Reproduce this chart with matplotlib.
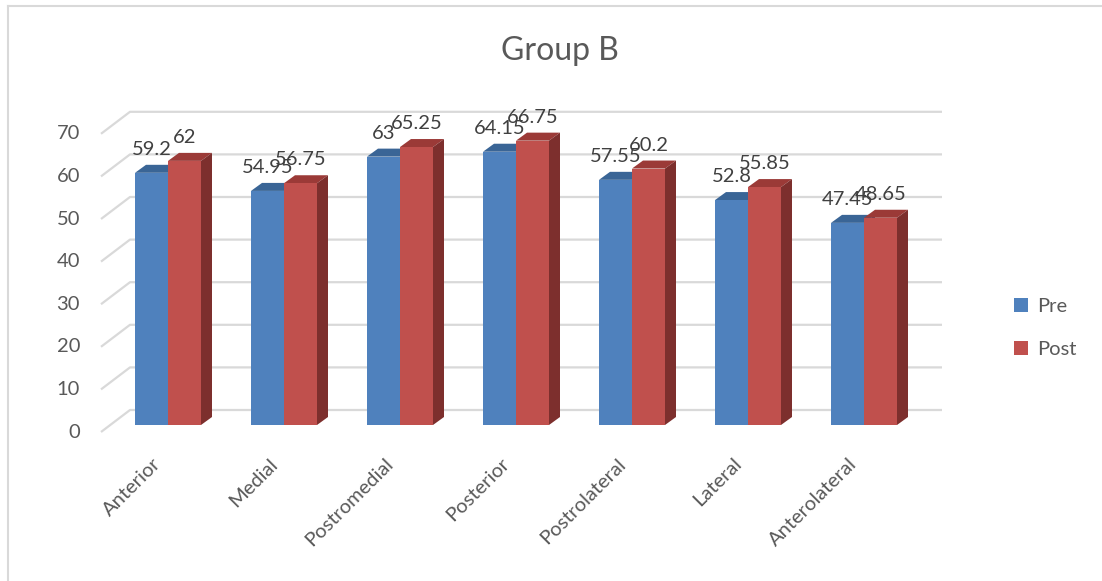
import numpy as np
import matplotlib
matplotlib.use("Agg")
import matplotlib.pyplot as plt
from matplotlib.patches import Polygon, Patch
from matplotlib.lines import Line2D

plt.rcParams['font.family'] = ['Lato', 'DejaVu Sans']

# data
categories = ["Anterior", "Medial", "Postromedial", "Posterior",
              "Postrolateral", "Lateral", "Anterolateral"]
pre = [59.2, 54.95, 63, 64.15, 57.55, 52.8, 47.45]
post = [62, 56.75, 65.25, 66.75, 60.2, 55.85, 48.65]
pre_labels = ["59.2", "54.95", "63", "64.15", "57.55", "52.8", "47.45"]
post_labels = ["62", "56.75", "65.25", "66.75", "60.2", "55.85", "48.65"]
yticks = [0, 10, 20, 30, 40, 50, 60, 70]

# colours (front, top, side)
pre_cols = ("#4F81BD", "#3A6596", "#2F5580")
post_cols = ("#C0504D", "#9B3A37", "#7D2F2D")
grid_col = "#D9D9D9"
text_col = "#595959"

W, H = 1102, 581
fig = plt.figure(figsize=(W / 100, H / 100), dpi=100)
# axes spans pixel x 90..960, y 100..440
ax = fig.add_axes([90 / W, 1 - 440 / H, 870 / W, 340 / H])
px_x = 116.0   # pixels per category
px_y = 4.26    # pixels per value unit
ax.set_xlim((90 - 168) / px_x, (960 - 168) / px_x)
ax.set_ylim((425 - 440) / px_y, (425 - 100) / px_y)
ax.axis("off")

bw = 33 / px_x          # single bar width
ddx = 11 / px_x         # bar depth shift
ddy = 8 / px_y
back_dy = 15 / px_y     # back wall offset from bar front
front_dy = -7 / px_y    # side wall front offset
wall_x0 = (101 - 168) / px_x
wall_x1 = (130 - 168) / px_x
wall_x2 = (942 - 168) / px_x

# gridlines (back wall + left side wall)
for t in yticks:
    ax.plot([wall_x0, wall_x1, wall_x2], [t + front_dy, t + back_dy, t + back_dy],
            color=grid_col, lw=1.6, zorder=1, solid_capstyle="butt")
    ax.text((80 - 168) / px_x, t + front_dy, str(t), ha="right", va="center",
            fontsize=14.5, color=text_col)


def bar3d(x0, v, cols, z):
    x1 = x0 + bw
    front = Polygon([(x0, 0), (x1, 0), (x1, v), (x0, v)], closed=True,
                    facecolor=cols[0], edgecolor="none", zorder=z + 0.3)
    top = Polygon([(x0, v), (x1, v), (x1 + ddx, v + ddy), (x0 + ddx, v + ddy)],
                  closed=True, facecolor=cols[1], edgecolor="none", zorder=z + 0.1)
    side = Polygon([(x1, 0), (x1 + ddx, ddy), (x1 + ddx, v + ddy), (x1, v)],
                   closed=True, facecolor=cols[2], edgecolor="none", zorder=z + 0.2)
    for p in (top, side, front):
        ax.add_patch(p)


for i in range(len(categories)):
    bar3d(i - bw, pre[i], pre_cols, 2 + i)
    bar3d(i, post[i], post_cols, 2.5 + i)
    ax.text(i - bw / 2, pre[i] + ddy + 2.3, pre_labels[i], ha="center",
            va="baseline", fontsize=14.5, color="#404040", zorder=20)
    ax.text(i + bw / 2, post[i] + ddy + 2.3, post_labels[i], ha="center",
            va="baseline", fontsize=14.5, color="#404040", zorder=20)
    ax.text(i - 0.03, (425 - 455) / px_y, categories[i], rotation=45,
            ha="right", va="top", fontsize=14.5, color=text_col)

fig.text(560 / W, 1 - 51 / H, "Group B", ha="center", va="center",
         fontsize=23, color=text_col)

handles = [Patch(facecolor=pre_cols[0]), Patch(facecolor=post_cols[0])]
fig.legend(handles, ["Pre", "Post"], loc="center left",
           bbox_to_anchor=(1014 / W, 1 - 328 / H), frameon=False,
           handlelength=0.7, handleheight=0.7, handletextpad=0.45,
           labelspacing=1.3, fontsize=14.5, labelcolor=text_col,
           borderaxespad=0, borderpad=0)

# chart frame
fig.add_artist(Line2D([8 / W, 8 / W], [0, 1 - 6 / H], color=grid_col, lw=1.5))
fig.add_artist(Line2D([8 / W, 1], [1 - 6 / H, 1 - 6 / H], color=grid_col, lw=1.5))

fig.savefig("out.png", dpi=100, facecolor="white")
